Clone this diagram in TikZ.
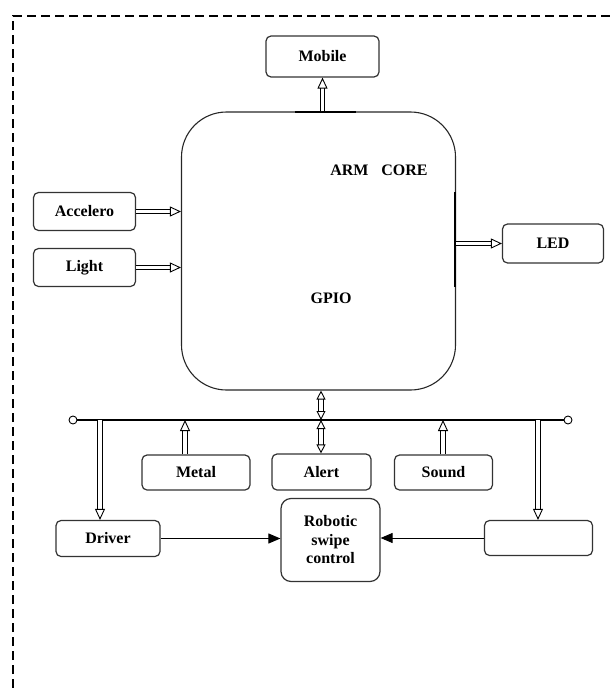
\documentclass[tikz,border=0pt]{standalone}
\usepackage{fontspec}
\setmainfont{Liberation Serif}
\usetikzlibrary{arrows.meta}
\begin{document}
\begin{tikzpicture}[x=1pt,y=-1pt,
  box/.style={draw=black!80,line width=1.2pt,rounded corners=5pt,fill=white,
    inner sep=0pt,font=\bfseries\fontsize{16}{18}\selectfont},
  hollow/.style={double=white,double distance=3.4pt,line width=0.9pt,
    -{Triangle[open,length=11pt,width=10pt,line width=0.9pt]}},
  hollowboth/.style={double=white,double distance=3.4pt,line width=0.9pt,
    {Triangle[open,length=9pt,width=9pt,line width=0.9pt]}-{Triangle[open,length=9pt,width=9pt,line width=0.9pt]}},
  solidarr/.style={line width=1pt,-{Triangle[length=12pt,width=10pt]}},
  lbl/.style={font=\bfseries\fontsize{16}{18}\selectfont}]
\useasboundingbox (0,0) rectangle (615,688);

% dashed frame (top and left edges)
\draw[line width=1.8pt,dash pattern=on 9pt off 5pt] (13,688) -- (13,16) -- (615,16);

% processor block
\node[draw=black!85,line width=1.1pt,rounded corners=45pt,minimum width=274pt,
  minimum height=278pt,inner sep=0pt] (core) at (318.5,251) {};
\draw[line width=1.8pt] (295,112) -- (356,112);
\draw[line width=1.8pt] (455,192) -- (455,287);
\node[lbl] (arm) at (379,170) {ARM\hspace{0.8em}CORE};
\node[lbl] (gpio) at (331,298) {GPIO};

% peripherals
\node[box,minimum width=113pt,minimum height=41pt] (mobile) at (322.5,56.5) {Mobile};
\node[box,minimum width=102pt,minimum height=38pt] (acc) at (84.5,211.5) {Accelero};
\node[box,minimum width=102pt,minimum height=38pt] (light) at (84.5,267.5) {Light};
\node[box,minimum width=101pt,minimum height=39pt] (led) at (553,243.5) {LED};
\node[box,minimum width=108pt,minimum height=35pt] (metal) at (196,472.5) {Metal};
\node[box,minimum width=99pt,minimum height=36pt] (alert) at (321.5,472) {Alert};
\node[box,minimum width=98pt,minimum height=35pt] (sound) at (443.5,472.5) {Sound};
\node[box,minimum width=104pt,minimum height=36pt] (driver) at (108,538.5) {Driver};
\node[box,minimum width=108pt,minimum height=35pt] (blank) at (538.5,538) {};
\node[box,rounded corners=10pt,minimum width=99pt,minimum height=83pt,align=center,
  font=\bfseries\fontsize{16}{18.5}\selectfont] (robot) at (330.5,540) {Robotic\\swipe\\control};

% bus
\node[draw,circle,inner sep=0pt,minimum size=8pt,line width=0.9pt] (busl) at (73,420) {};
\node[draw,circle,inner sep=0pt,minimum size=8pt,line width=0.9pt] (busr) at (568,420) {};
\draw[line width=1.1pt] (busl) -- (busr);
\coordinate (bdrv) at (100,420);
\coordinate (bmet) at (185,420);
\coordinate (balt) at (321,420);
\coordinate (bsnd) at (443,420);
\coordinate (bblk) at (538,420);

% connectors
\coordinate (ctop) at (core.north -| mobile.south);
\draw[hollow] (ctop) -- (mobile.south);
\draw[hollow] (acc.east) -- (acc.east -| core.west);
\draw[hollow] (light.east) -- (light.east -| core.west);
\draw[hollow] (led.west -| core.east) -- (led.west);
\draw[hollowboth] (balt |- core.south) -- (balt);
\draw[hollowboth] (balt) -- (balt |- alert.north);
\draw[hollow] (bmet |- metal.north) -- (bmet);
\draw[hollow] (bsnd |- sound.north) -- (bsnd);
\draw[hollow] (bdrv) -- (bdrv |- driver.north);
\draw[hollow] (bblk) -- (bblk |- blank.north);
\draw[solidarr] (driver.east) -- (driver.east -| robot.west);
\draw[solidarr] (blank.west) -- (blank.west -| robot.east);
\end{tikzpicture}
\end{document}
